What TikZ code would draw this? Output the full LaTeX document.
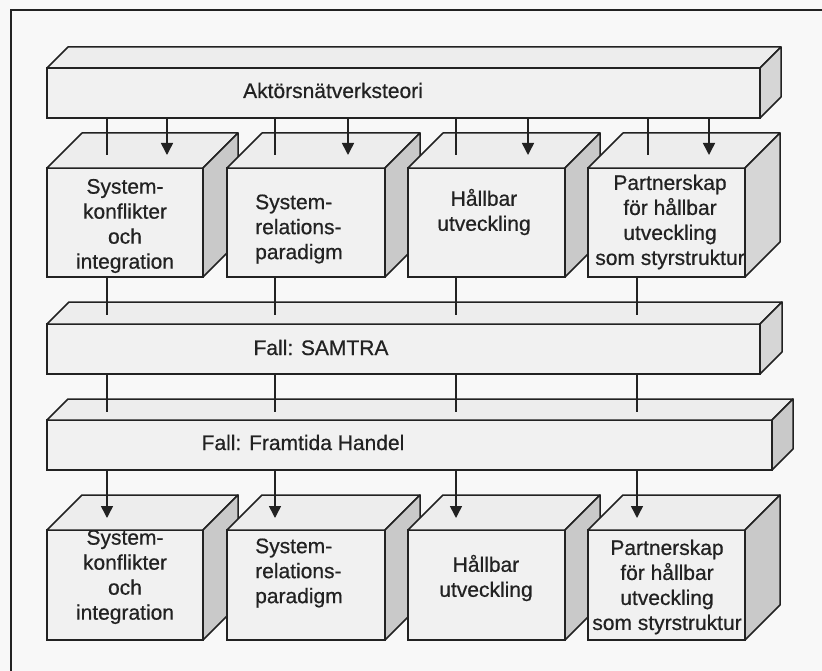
\documentclass[tikz,border=0pt]{standalone}
\usepackage{fontspec}
\setmainfont{Liberation Sans}[FakeBold=0.6]
\usetikzlibrary{calc,arrows.meta}
\definecolor{bg}{HTML}{F8F8F8}
\definecolor{frontc}{HTML}{F1F1F1}
\definecolor{topc}{HTML}{EDEDED}
\definecolor{sidec}{HTML}{C9C9C9}
\definecolor{sidelt}{HTML}{D6D6D6}
\definecolor{ink}{HTML}{222222}
\tikzset{
  face/.style={draw=ink, fill=frontc, line width=1.5bp, inner sep=0pt, outer sep=0pt, rectangle},
  topface/.style={draw=ink, fill=topc, line width=1.5bp, line join=round},
  rightface/.style={draw=ink, fill=sidec, line width=1.5bp, line join=round},
  lbl/.style={font=\fontsize{21bp}{25bp}\selectfont, text=ink, inner sep=0pt, align=center},
  conn/.style={draw=ink, line width=1.5bp},
  arr/.style={conn, -{Triangle[width=12bp,length=12bp]}},
}
\newcommand\slabfront[5]{% name, x1, y1, x2, y2
  \node[face, anchor=north west, minimum width={(#4-#2)*1bp}, minimum height={(#5-#3)*1bp}] (#1) at (#2,#3) {};
}
\newcommand\slabsides[3]{% name, depth, side colour
  \draw[topface] (#1.north west) -- ++(#2,-#2) -- ($(#1.north east)+(#2,-#2)$) -- (#1.north east) -- cycle;
  \draw[rightface, fill=#3] (#1.north east) -- ++(#2,-#2) -- ($(#1.south east)+(#2,-#2)$) -- (#1.south east) -- cycle;
}
\begin{document}
\begin{tikzpicture}[x=1bp, y=-1bp]
\useasboundingbox (0,0) rectangle (822,671);
\fill[bg] (0,0) rectangle (822,671);
% outer frame
\coordinate (fa) at (11,671);
\coordinate (fb) at (11,10);
\coordinate (fc) at (822,10);
\draw[ink, line width=1.6bp] (fa) -- (fb) -- (fc);

% top bar
\slabfront{top}{47}{68}{760}{118}
\node[lbl, anchor=base] (toplbl) at (333,98) {Aktörsnätverksteori};
\slabsides{top}{21}{sidelt}

% upper boxes
\slabfront{u1}{47}{168}{203}{277}
\node[lbl] (u1l) at (125,226) {System-\\konflikter\\och\\integration};
\slabsides{u1}{35}{sidec}
\slabfront{u2}{227}{168}{385}{277}
\node[lbl, align=left, anchor=west] (u2l) at (255,229) {System-\\relations-\\paradigm};
\slabsides{u2}{35}{sidec}
\slabfront{u3}{408}{168}{565}{277}
\node[lbl] (u3l) at (484,212) {Hållbar\\utveckling};
\slabsides{u3}{35}{sidec}
\slabfront{u4}{588}{168}{745}{277}
\node[lbl] (u4l) at (670,222) {Partnerskap\\för hållbar\\utveckling\\som styrstruktur};
\slabsides{u4}{35}{sidelt}

% middle bars
\slabfront{sam}{47}{324}{760}{374}
\node[lbl, anchor=base] (saml) at (321,355) {Fall: SAMTRA};
\slabsides{sam}{22}{sidelt}
\slabfront{fh}{47}{420}{772}{470}
\node[lbl, anchor=base] (fhl) at (303,450) {Fall: Framtida Handel};
\slabsides{fh}{21}{sidec}

% lower boxes
\slabfront{d1}{47}{530}{203}{640}
\node[lbl] (d1l) at (125,577) {System-\\konflikter\\och\\integration};
\slabsides{d1}{35}{sidec}
\slabfront{d2}{227}{530}{385}{640}
\node[lbl, align=left, anchor=west] (d2l) at (255,573) {System-\\relations-\\paradigm};
\slabsides{d2}{35}{sidec}
\slabfront{d3}{408}{530}{565}{640}
\node[lbl] (d3l) at (486,578) {Hållbar\\utveckling};
\slabsides{d3}{35}{sidec}
\slabfront{d4}{588}{530}{745}{640}
\node[lbl] (d4l) at (667,587) {Partnerskap\\för hållbar\\utveckling\\som styrstruktur};
\slabsides{d4}{35}{sidec}

% connectors: top bar to upper boxes
\foreach \i/\x in {1/107,2/275,3/456,4/648}{
  \coordinate (tp\i) at (\x,155);
  \draw[conn] (top.south -| tp\i) -- (tp\i);
}
\foreach \i/\x in {1/167,2/348,3/528,4/709}{
  \coordinate (ta\i) at (\x,155);
  \draw[arr] (top.south -| ta\i) -- (ta\i);
}
% upper boxes to SAMTRA
\coordinate (s1) at (107,315);
\coordinate (s2) at (275,315);
\coordinate (s3) at (456,315);
\coordinate (s4) at (637,315);
\draw[conn] (u1.south -| s1) -- (s1);
\draw[conn] (u2.south -| s2) -- (s2);
\draw[conn] (u3.south -| s3) -- (s3);
\draw[conn] (u4.south -| s4) -- (s4);
% SAMTRA to Framtida Handel
\foreach \i/\x in {1/107,2/275,3/456,4/637}{
  \coordinate (f\i) at (\x,412);
  \draw[conn] (sam.south -| f\i) -- (f\i);
}
% Framtida Handel to lower boxes
\foreach \i/\x in {1/107,2/275,3/456,4/637}{
  \coordinate (la\i) at (\x,518);
  \draw[arr] (fh.south -| la\i) -- (la\i);
}
\end{tikzpicture}
\end{document}
